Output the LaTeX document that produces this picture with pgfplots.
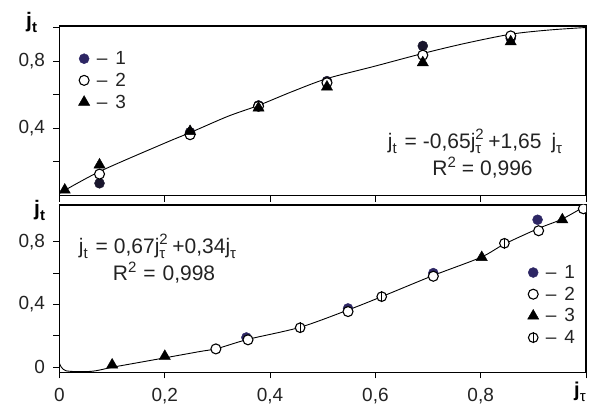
\documentclass[border=0pt]{standalone}
\usepackage{pgfplots}
\pgfplotsset{compat=1.18}
\usepackage{fontspec}
\setmainfont{Liberation Sans}
\definecolor{navy}{RGB}{45,38,100}
\definecolor{dark}{RGB}{25,22,45}
\definecolor{txt}{RGB}{35,35,35}
\pgfdeclareplotmark{phi}{%
  \pgfpathcircle{\pgfpointorigin}{\pgfplotmarksize}%
  \pgfusepathqfillstroke
  \pgfpathmoveto{\pgfqpoint{0pt}{-1.2\pgfplotmarksize}}%
  \pgfpathlineto{\pgfqpoint{0pt}{1.2\pgfplotmarksize}}%
  \pgfusepathqstroke}
\newcommand\Sub[1]{\raisebox{-0.22em}{\fontsize{15}{15}\selectfont #1}}
\newcommand\SubSup[2]{\rlap{\raisebox{0.45em}{\fontsize{15}{15}\selectfont #2}}\raisebox{-0.22em}{\fontsize{15}{15}\selectfont #1}}
\newcommand\Sup[1]{\raisebox{0.42em}{\fontsize{15}{15}\selectfont #1}}
\newcommand\eqf{\fontsize{21}{23}\selectfont\color{txt}}
\newcommand\legtxt[1]{\hspace{5pt}–\hspace{8pt}#1}
\pgfplotsset{
  panel/.style={
    scale only axis, width=526.5pt,
    xmin=0, xmax=1,
    axis line style={line width=1.2pt},
    tick style={line width=1pt, black},
    tick align=outside, major tick length=6pt,
    xtick pos=bottom, ytick pos=left,
    xtick={0,0.2,0.4,0.6,0.8,1},
    tick label style={font=\fontsize{19}{19}\selectfont, text=txt},
    yticklabel style={xshift=-5pt},
    xticklabel style={yshift=-6pt},
    clip marker paths=true,
    legend style={draw=none, fill=none, font=\fontsize{19}{21}\selectfont, text=txt, row sep=3pt},
    legend cell align=left,
  },
  s1/.style={only marks, mark=*, mark size=5pt, mark options={fill=#1, draw=#1}},
  s2/.style={only marks, mark=*, mark size=5pt, mark options={fill=white, draw=black, line width=1.1pt}},
  s3/.style={only marks, mark=triangle*, mark size=6.5pt, mark options={fill=black, draw=black}},
  s4/.style={only marks, mark=phi, mark size=4.8pt, mark options={fill=white, draw=black, line width=1.1pt}},
}
\begin{document}
\begin{tikzpicture}
\useasboundingbox (0,0) rectangle (592pt,406pt);
% ---------- top panel ----------
\begin{axis}[panel, at={(59.5pt,210.3pt)}, anchor=south west, height=169.7pt,
  ymin=-0.004, ymax=1.009,
  xticklabels={},
  ytick={0.2,0.4,0.6,0.8,1.0}, yticklabels={,{0,4},,{0,8},},
  legend style={at={(0.03,0.875)}, anchor=north west},
]
\addplot[smooth, line width=0.9pt, forget plot] coordinates {
 (0,0.01) (0.076,0.14) (0.2,0.31) (0.25,0.375) (0.32,0.47) (0.378,0.535)
 (0.44,0.615) (0.508,0.695) (0.6,0.77) (0.69,0.845) (0.77,0.905)
 (0.857,0.96) (0.93,0.985) (1.0,1.0)};
\addplot[s1=dark, forget plot] coordinates {
 (0.076,0.07) (0.248,0.375) (0.378,0.535) (0.508,0.68) (0.69,0.89) (0.857,0.935) (1.0,1.01)};
\addplot[s2, forget plot] coordinates {
 (0.076,0.125) (0.248,0.36) (0.378,0.53) (0.508,0.67) (0.69,0.835) (0.857,0.95)};
\addplot[s3, forget plot] coordinates {
 (0.01,0.03) (0.076,0.18) (0.248,0.38) (0.378,0.52) (0.508,0.645) (0.69,0.79) (0.857,0.915)};
\addlegendimage{s1=navy}\addlegendentry{\legtxt{1}}
\addlegendimage{s2}\addlegendentry{\legtxt{2}}
\addlegendimage{s3}\addlegendentry{\legtxt{3}}
\end{axis}
% ---------- bottom panel ----------
\begin{axis}[panel, at={(59.5pt,33.7pt)}, anchor=south west, height=167.3pt,
  ymin=-0.032, ymax=1.034,
  xticklabels={0,{0,2},{0,4},{0,6},{0,8},},
  ytick={0,0.2,0.4,0.6,0.8}, yticklabels={0,,{0,4},,{0,8}},
  legend style={at={(0.883,0.665)}, anchor=north west},
]
\addplot[smooth, line width=0.9pt, forget plot] coordinates {
 (0,0.025) (0.012,-0.022) (0.06,-0.026) (0.1,0.0) (0.13,0.018) (0.2,0.06)
 (0.266,0.1) (0.3,0.12) (0.358,0.178) (0.457,0.255) (0.548,0.365) (0.612,0.45)
 (0.71,0.585) (0.8,0.70) (0.845,0.785) (0.91,0.885) (0.955,0.945) (1.0,1.03)};
\addplot[s1=navy, forget plot] coordinates {
 (0.355,0.19) (0.548,0.375) (0.71,0.60) (0.908,0.94)};
\addplot[s2, forget plot] coordinates {
 (0.297,0.117) (0.358,0.175) (0.548,0.355) (0.71,0.58) (0.91,0.87) (0.995,1.01)};
\addplot[s3, forget plot] coordinates {
 (0.1,0.015) (0.2,0.07) (0.802,0.70) (0.955,0.94)};
\addplot[s4, forget plot] coordinates {
 (0.457,0.252) (0.612,0.45) (0.845,0.79)};
\addlegendimage{s1=navy}\addlegendentry{\legtxt{1}}
\addlegendimage{s2}\addlegendentry{\legtxt{2}}
\addlegendimage{s3}\addlegendentry{\legtxt{3}}
\addlegendimage{s4}\addlegendentry{\legtxt{4}}
\end{axis}
% ---------- labels ----------
\node[anchor=base west, inner sep=0pt] at (26pt,378pt) {\fontsize{21}{21}\selectfont\bfseries j\Sub{t}};
\node[anchor=base west, inner sep=0pt] at (34pt,190pt) {\fontsize{21}{21}\selectfont\bfseries j\Sub{t}};
\node[anchor=base west, inner sep=0pt] at (574pt,9pt) {\fontsize{20}{20}\selectfont\bfseries j\Sub{\mdseries τ}};
\node[anchor=base, inner sep=0pt] at (475pt,257pt) {\eqf j\Sub{t}\hspace{8pt}=\hspace{6pt}-0,65j\SubSup{τ}{2}\hspace{7pt}+1,65\hspace{10pt}j\Sub{τ}};
\node[anchor=base, inner sep=0pt] at (482.5pt,230pt) {\eqf R\Sup{2}\hspace{6pt}=\hspace{6pt}0,996};
\node[anchor=base, inner sep=0pt] at (157.5pt,152pt) {\eqf j\Sub{t}\hspace{8pt}=\hspace{6pt}0,67j\SubSup{τ}{2}\hspace{7pt}+0,34j\Sub{τ}};
\node[anchor=base, inner sep=0pt] at (164pt,125pt) {\eqf R\Sup{2}\hspace{7pt}=\hspace{7pt}0,998};
\end{tikzpicture}
\end{document}
